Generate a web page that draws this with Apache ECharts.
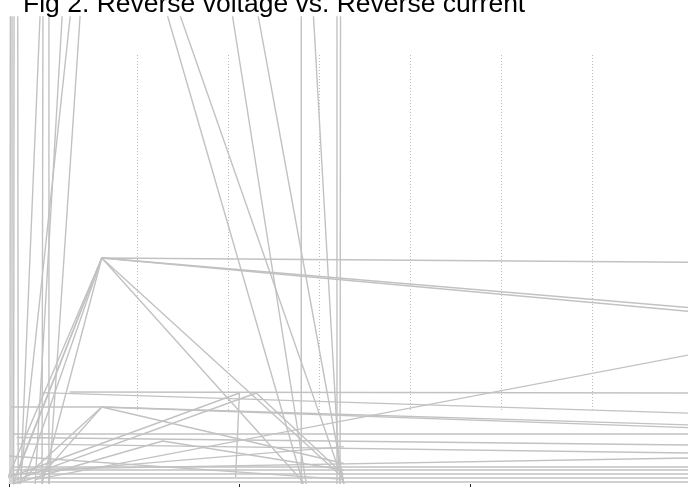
<!DOCTYPE html>
<html>
<head>
<meta charset="utf-8">
<script src="https://cdn.jsdelivr.net/npm/echarts@6/dist/echarts.min.js"></script>
<style>html,body{margin:0;padding:0;background:#fff;}#chart{width:688px;height:487px;}</style>
</head>
<body>
<div id="chart"></div>
<script>
const titleText = 'Fig 2. Reverse voltage vs. Reverse current';
// main axis ticks (reverse voltage, V)
const voltageTicks = [0, 30, 60];
const voltageMax = 88.4;
// dotted reference grid ticks
const refTicks = [0, 1, 2, 3, 4, 5, 6, 7];

// curves passing through the two knee points
const peakCurves = [
  [[-0.5, 0], [12.08, 24.2], [95, 23.7]],
  [[0.52, 0], [12.08, 24.2], [95, 18.0]],
  [[4.29, 0], [12.08, 24.2], [89.7, 18.8]],
  [[2.0, 0.4], [12.08, 24.2], [43.6, 0.6]],
  [[1.0, 1.2], [12.08, 24.2], [38.4, 0.1]],
  [[0.3, 8.24], [12.08, 8.24], [89.7, 6.3]],
  [[4.3, 1.0], [12.08, 8.24], [89.7, 6.0]],
  [[1.5, 0.3], [12.08, 8.24], [43.6, 2.2]]
];
// nearly flat curves
const flatCurves = [
  [[7.9, 9.85], [89.7, 9.74]],
  [[4.3, 9.78], [89.7, 7.55]],
  [[0.5, 5.35], [89.7, 5.35]],
  [[1.0, 4.98], [89.7, 4.16]],
  [[1.0, 4.3], [89.7, 3.3]],
  [[2.0, 1.57], [89.7, 2.8]],
  [[0.5, 1.82], [89.7, 1.82]],
  [[0.5, 1.5], [89.7, 1.5]],
  [[0.5, 1.07], [89.7, 1.07]],
  [[0.5, 0.64], [89.7, 0.64]],
  [[0.5, 0.21], [89.7, 0.21]],
  [[3.5, 0.5], [89.7, 14.0]]
];
// rising curves
const riseCurves = [
  [[0.13, 0.75], [30, 9.74], [29.5, 0.75]],
  [[0.5, 0.3], [32.2, 9.74], [43.6, 1.0]],
  [[0, 1.0], [43.6, 4.0]],
  [[0, 3.0], [43.6, 0.5]],
  [[0.5, 0], [20, 4.6], [43.6, 1.5]]
];
// steep curves
const steepCurves = [
  [[0.13, 0], [0.2, 84]],
  [[0.39, 0], [0.4, 84]],
  [[0.6, 0], [0.7, 84]],
  [[1.2, 0], [1.1, 84]],
  [[1.5, 0], [5.76, 84]],
  [[4.3, 0], [4.5, 84]],
  [[5.2, 0], [5.2, 84]],
  [[3.4, 0], [9.3, 84]],
  [[1.43, 0], [12.4, 84]],
  [[5.2, 0], [12.0, 84]],
  [[38.3, 0], [8.7, 84]],
  [[43.6, 0], [7.9, 84]],
  [[38.7, 0], [22.6, 84]],
  [[43.6, 0], [24.9, 84]],
  [[43.1, 0], [37.3, 84]],
  [[38.05, 0], [38.05, 84]],
  [[42.7, 0], [42.7, 84]],
  [[43.1, 0], [43.2, 84]]
];

const allCurves = [].concat(peakCurves, flatCurves, riseCurves, steepCurves);
const series = allCurves.map((pts, i) => ({
  type: 'line',
  name: 'curve ' + (i + 1),
  xAxisIndex: 0,
  yAxisIndex: 0,
  data: pts,
  showSymbol: false,
  clip: true,
  silent: true,
  lineStyle: { color: '#c2c2c2', width: 1.4 },
  animation: false
}));

const chart = echarts.init(document.getElementById('chart'), null, { renderer: 'canvas' });
chart.setOption({
  animation: false,
  backgroundColor: '#fff',
  title: {
    text: titleText,
    left: 18,
    top: -14,
    textStyle: { fontFamily: 'Liberation Sans, Arial, sans-serif', fontSize: 26.5, fontWeight: 'normal', color: '#000' }
  },
  grid: [
    { left: 9, top: 17, right: 0, height: 467 },
    { left: 46, top: 55, width: 637, height: 357 }
  ],
  xAxis: [
    {
      gridIndex: 0, type: 'value', min: voltageTicks[0], max: voltageMax, interval: 30,
      axisLine: { show: false },
      axisTick: { show: true, length: 3, lineStyle: { color: '#222', width: 1 } },
      axisLabel: { show: false },
      splitLine: { show: false }
    },
    {
      gridIndex: 1, type: 'value', min: refTicks[0], max: refTicks[refTicks.length - 1], interval: 1,
      axisLine: { show: false }, axisTick: { show: false }, axisLabel: { show: false },
      splitLine: { show: true, showMinLine: false, showMaxLine: false, lineStyle: { color: '#bdbdbd', type: [1, 2], width: 1 } }
    }
  ],
  yAxis: [
    { gridIndex: 0, type: 'value', min: 0, max: 50, show: false },
    { gridIndex: 1, type: 'value', min: 0, max: 1, show: false }
  ],
  series: series
});
</script>
</body>
</html>
